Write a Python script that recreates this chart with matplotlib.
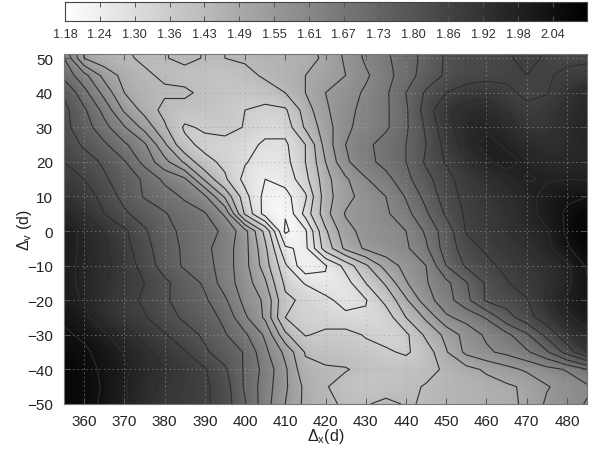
import numpy as np
import matplotlib
matplotlib.use('Agg')
import matplotlib.pyplot as plt

plt.rcParams['font.family'] = ['Liberation Sans', 'DejaVu Sans']
plt.rcParams['mathtext.fontset'] = 'custom'
plt.rcParams['mathtext.rm'] = 'Liberation Sans'

delta_x = [355, 360, 365, 370, 375, 380, 385, 390, 395, 400, 405, 410, 415, 420,
           425, 430, 435, 440, 445, 450, 455, 460, 465, 470, 475, 480, 485]
delta_y = [-50, -45, -40, -35, -30, -25, -20, -15, -10, -5, 0, 5, 10, 15, 20, 25, 30, 35, 40, 45, 50, 55]

# chi values, one row per delta_y
row_m50 = [2.07, 2.06, 2.03, 1.99, 1.935, 1.905, 1.885, 1.87, 1.835, 1.735, 1.635, 1.55, 1.475, 1.445,
           1.42, 1.425, 1.445, 1.425, 1.435, 1.445, 1.455, 1.465, 1.475, 1.50, 1.56, 1.585, 1.615]
row_m45 = [2.07, 2.06, 2.035, 1.985, 1.94, 1.905, 1.885, 1.87, 1.83, 1.72, 1.64, 1.56, 1.475, 1.435,
           1.40, 1.38, 1.40, 1.415, 1.435, 1.445, 1.455, 1.465, 1.48, 1.50, 1.545, 1.575, 1.60]
row_m40 = [2.08, 2.06, 2.03, 1.99, 1.95, 1.92, 1.895, 1.865, 1.81, 1.72, 1.65, 1.56, 1.445, 1.44,
           1.435, 1.41, 1.40, 1.40, 1.41, 1.44, 1.47, 1.50, 1.53, 1.56, 1.59, 1.615, 1.67]
row_m35 = [2.07, 2.05, 2.02, 1.975, 1.935, 1.90, 1.865, 1.81, 1.765, 1.725, 1.625, 1.535, 1.425, 1.40,
           1.395, 1.38, 1.37, 1.35, 1.395, 1.485, 1.565, 1.60, 1.625, 1.66, 1.72, 1.825, 1.925]
row_m30 = [2.05, 2.03, 1.99, 1.945, 1.90, 1.865, 1.825, 1.79, 1.735, 1.68, 1.60, 1.445, 1.355, 1.375,
           1.38, 1.355, 1.335, 1.345, 1.445, 1.505, 1.575, 1.62, 1.655, 1.72, 1.82, 1.90, 1.955]
row_m25 = [2.03, 2.00, 1.925, 1.89, 1.865, 1.825, 1.79, 1.76, 1.715, 1.62, 1.54, 1.36, 1.345, 1.33,
           1.32, 1.31, 1.32, 1.43, 1.50, 1.60, 1.63, 1.675, 1.77, 1.84, 1.89, 1.97, 2.01]
row_m20 = [2.00, 1.975, 1.915, 1.885, 1.85, 1.81, 1.77, 1.74, 1.68, 1.59, 1.54, 1.375, 1.345, 1.32,
           1.27, 1.295, 1.38, 1.48, 1.585, 1.645, 1.71, 1.81, 1.83, 1.855, 1.93, 1.99, 2.03]
row_m15 = [2.00, 1.965, 1.925, 1.89, 1.86, 1.815, 1.765, 1.72, 1.64, 1.58, 1.50, 1.345, 1.295, 1.25,
           1.275, 1.36, 1.44, 1.545, 1.605, 1.655, 1.725, 1.81, 1.855, 1.89, 1.915, 1.965, 2.03]
row_m10 = [2.00, 1.965, 1.935, 1.89, 1.84, 1.77, 1.72, 1.695, 1.64, 1.57, 1.46, 1.31, 1.19, 1.235,
           1.32, 1.42, 1.515, 1.57, 1.61, 1.73, 1.81, 1.845, 1.875, 1.90, 1.92, 1.965, 2.05]
row_m05 = [2.01, 1.965, 1.93, 1.88, 1.825, 1.76, 1.72, 1.685, 1.64, 1.57, 1.445, 1.25, 1.225, 1.39,
           1.505, 1.56, 1.585, 1.60, 1.66, 1.76, 1.835, 1.87, 1.895, 1.92, 1.96, 2.03, 2.09]
row_p00 = [2.02, 1.96, 1.92, 1.87, 1.81, 1.75, 1.715, 1.69, 1.66, 1.57, 1.41, 1.168, 1.23, 1.42,
           1.53, 1.57, 1.59, 1.61, 1.68, 1.765, 1.865, 1.89, 1.915, 1.945, 1.975, 2.05, 2.10]
row_p05 = [1.96, 1.92, 1.86, 1.81, 1.77, 1.735, 1.70, 1.675, 1.60, 1.35, 1.215, 1.185, 1.32, 1.47,
           1.555, 1.58, 1.60, 1.65, 1.72, 1.81, 1.87, 1.89, 1.915, 1.96, 2.00, 2.05, 2.08]
row_p10 = [1.92, 1.89, 1.84, 1.78, 1.725, 1.70, 1.66, 1.62, 1.48, 1.32, 1.22, 1.22, 1.29, 1.465,
           1.53, 1.575, 1.61, 1.675, 1.75, 1.835, 1.875, 1.90, 1.93, 1.96, 2.00, 2.03, 2.04]
row_p15 = [1.89, 1.86, 1.81, 1.765, 1.72, 1.655, 1.62, 1.48, 1.37, 1.28, 1.24, 1.26, 1.34, 1.47,
           1.54, 1.605, 1.65, 1.71, 1.78, 1.84, 1.89, 1.92, 1.955, 1.985, 1.975, 1.98, 1.975]
row_p20 = [1.86, 1.83, 1.79, 1.735, 1.65, 1.57, 1.48, 1.38, 1.345, 1.305, 1.27, 1.28, 1.36, 1.49,
           1.60, 1.65, 1.69, 1.73, 1.81, 1.865, 1.91, 1.97, 2.00, 1.97, 1.95, 1.95, 1.97]
row_p25 = [1.84, 1.79, 1.74, 1.68, 1.62, 1.50, 1.38, 1.34, 1.33, 1.32, 1.29, 1.29, 1.36, 1.515,
           1.61, 1.655, 1.695, 1.73, 1.80, 1.88, 1.95, 2.00, 1.97, 1.95, 1.93, 1.94, 1.97]
row_p30 = [1.82, 1.76, 1.69, 1.615, 1.53, 1.44, 1.35, 1.37, 1.39, 1.355, 1.32, 1.32, 1.44, 1.52,
           1.60, 1.63, 1.66, 1.72, 1.81, 1.90, 1.95, 1.97, 1.95, 1.90, 1.90, 1.94, 1.97]
row_p35 = [1.82, 1.74, 1.65, 1.54, 1.47, 1.41, 1.40, 1.39, 1.385, 1.36, 1.34, 1.35, 1.46, 1.54,
           1.59, 1.63, 1.66, 1.72, 1.83, 1.91, 1.95, 1.95, 1.92, 1.87, 1.90, 1.93, 1.96]
row_p40 = [1.79, 1.69, 1.59, 1.49, 1.45, 1.44, 1.445, 1.41, 1.39, 1.38, 1.40, 1.43, 1.49, 1.55,
           1.58, 1.62, 1.66, 1.73, 1.81, 1.86, 1.89, 1.90, 1.87, 1.85, 1.855, 1.92, 1.96]
row_p45 = [1.71, 1.63, 1.53, 1.47, 1.44, 1.42, 1.40, 1.39, 1.40, 1.41, 1.44, 1.46, 1.49, 1.51,
           1.55, 1.60, 1.65, 1.70, 1.76, 1.81, 1.83, 1.84, 1.85, 1.86, 1.855, 1.87, 1.88]
row_p50 = [1.67, 1.49, 1.45, 1.44, 1.42, 1.425, 1.45, 1.425, 1.43, 1.44, 1.45, 1.45, 1.47, 1.50,
           1.56, 1.62, 1.66, 1.70, 1.75, 1.81, 1.83, 1.84, 1.85, 1.88, 1.85, 1.85, 1.85]
row_p55 = [1.63, 1.47, 1.44, 1.43, 1.42, 1.425, 1.46, 1.425, 1.43, 1.45, 1.46, 1.46, 1.48, 1.51,
           1.57, 1.63, 1.67, 1.71, 1.76, 1.82, 1.83, 1.84, 1.85, 1.89, 1.85, 1.84, 1.83]

levels = [1.18, 1.24, 1.30, 1.36, 1.43, 1.49, 1.55, 1.61, 1.67, 1.73, 1.80, 1.86, 1.92, 1.98, 2.04]
level_labels = ['1.18', '1.24', '1.30', '1.36', '1.43', '1.49', '1.55', '1.61', '1.67', '1.73',
                '1.80', '1.86', '1.92', '1.98', '2.04']
x_ticks = [360, 370, 380, 390, 400, 410, 420, 430, 440, 450, 460, 470, 480]
y_ticks = [-50, -40, -30, -20, -10, 0, 10, 20, 30, 40, 50]

chi = np.array([row_m50, row_m45, row_m40, row_m35, row_m30, row_m25, row_m20, row_m15, row_m10, row_m05,
                row_p00, row_p05, row_p10, row_p15, row_p20, row_p25, row_p30, row_p35, row_p40, row_p45,
                row_p50, row_p55])

vmin, vmax = 1.18, 2.10
W, H = 602.0, 452.0

fig = plt.figure(figsize=(6.02, 4.52), dpi=100)

################################################################################
# Map
################################################################################

ax = fig.add_axes([64 / W, 1 - 405 / H, 523 / W, 350 / H])
ax.imshow(chi, cmap='gray_r', vmin=vmin, vmax=vmax, origin='lower', aspect='auto', interpolation='bicubic',
          extent=[352.5, 487.5, -52.5, 57.5])
ax.contour(delta_x, delta_y, chi, levels=levels, colors='#2e2e2e', linewidths=0.8)
ax.set_xlim(355, 485)
ax.set_ylim(-50, 51.2)
ax.set_xticks(x_ticks)
ax.set_yticks(y_ticks)
ax.grid(True, color='#a0a0a0', linestyle=(0, (1.5, 3)), linewidth=0.7, alpha=0.6)
ax.tick_params(direction='in', length=4, width=0.7, top=True, right=True, labelsize=11,
               color='#555555', labelcolor='#222222')
ax.tick_params(axis='x', pad=7)
ax.tick_params(axis='y', pad=8)
for s in ax.spines.values():
    s.set_color('#777777')
    s.set_linewidth(0.8)
ax.set_xlabel(r'$\Delta_{\rm x}$(d)', fontsize=11.5, color='#222222', labelpad=-1)
ax.set_ylabel(r'$\Delta_{\rm v}$ (d)', fontsize=11.5, color='#222222', labelpad=-5)

################################################################################
# Grey scale bar
################################################################################

cax = fig.add_axes([65 / W, 1 - 22 / H, 522 / W, 19 / H])
cax.imshow([np.linspace(vmin, vmax, 256)], cmap='gray_r', vmin=vmin, vmax=vmax, aspect='auto',
           extent=[vmin, vmax, 0, 1])
cax.set_yticks([])
cax.set_xticks(np.linspace(vmin, 2.04, 15))
cax.set_xticklabels(level_labels)
cax.tick_params(axis='x', direction='in', length=3.5, width=0.7, top=True, labelsize=9.2, color='#555555',
                labelcolor='#333333', pad=5)
for s in cax.spines.values():
    s.set_color('#444444')
    s.set_linewidth(0.8)

plt.savefig('out.png', dpi=100)
